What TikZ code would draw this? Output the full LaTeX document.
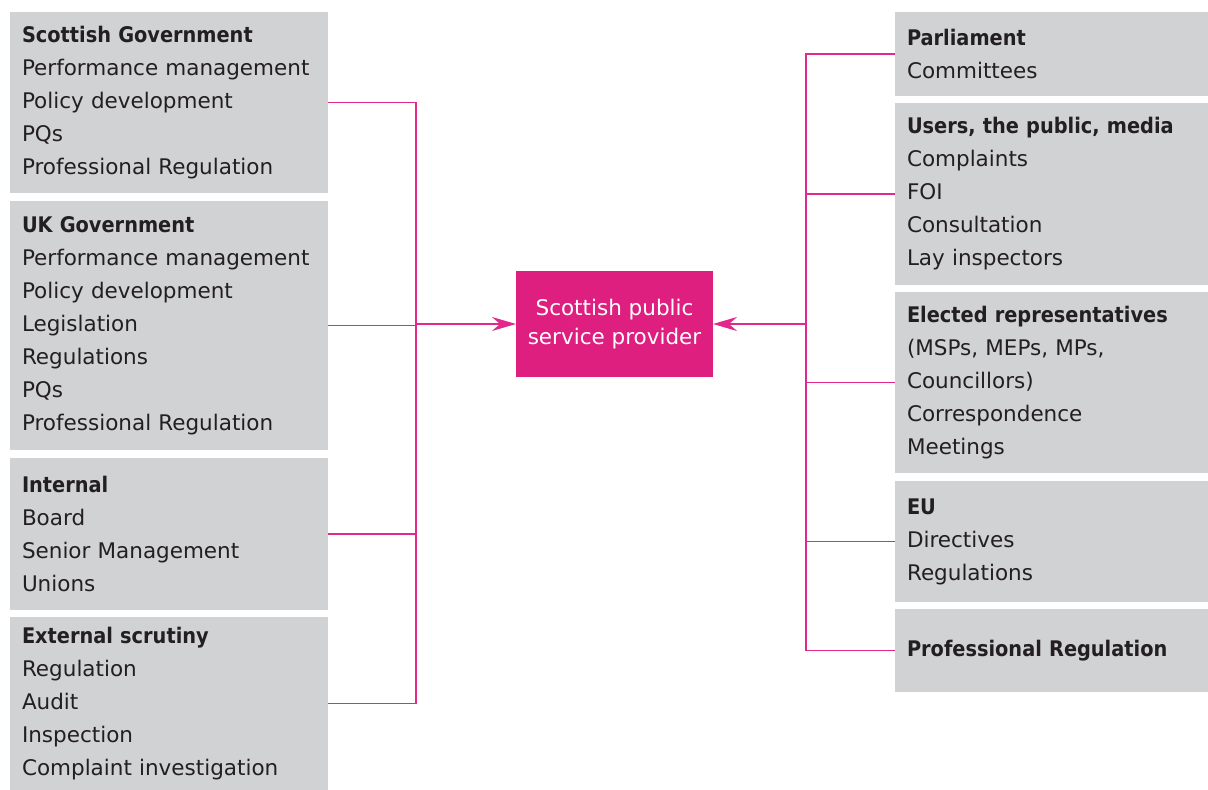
\documentclass[tikz,border=0pt]{standalone}
\usepackage{fontspec}
\setmainfont{DejaVu Sans}[BoldFont={DejaVu Sans Condensed Bold}]
\usetikzlibrary{arrows.meta}
\definecolor{boxgrey}{HTML}{D1D2D4}
\definecolor{hubpink}{HTML}{DE1F80}
\definecolor{linkpink}{HTML}{E2288A}
\definecolor{inktext}{HTML}{231F20}

\begin{document}
\begin{tikzpicture}[x=1pt, y=-1pt,
  group/.style={fill=boxgrey, text=inktext, anchor=north west, align=left,
    inner xsep=12pt, inner ysep=0pt, outer sep=0pt,
    font=\fontsize{21.5}{33}\selectfont},
  leftgroup/.style={group, text width=294pt},
  rightgroup/.style={group, text width=289pt},
  link/.style={draw=linkpink, line width=1.5pt},
  feed/.style={link, -{Stealth[length=24pt, width=14pt, inset=8pt]}}]
  \useasboundingbox (0,0) rectangle (1208,790);
  % left column
  \node[leftgroup, minimum height=181pt] (scotgov) at (10,12)
    {\textbf{Scottish Government}\\Performance management\\Policy development\\PQs\\Professional Regulation};
  \node[leftgroup, minimum height=249pt] (ukgov) at (10,201)
    {\textbf{UK Government}\\Performance management\\Policy development\\Legislation\\Regulations\\PQs\\Professional Regulation};
  \node[leftgroup, minimum height=152pt] (internal) at (10,458)
    {\textbf{Internal}\\Board\\Senior Management\\Unions};
  \node[leftgroup, minimum height=173pt] (scrutiny) at (10,617)
    {\textbf{External scrutiny}\\Regulation\\Audit\\Inspection\\Complaint investigation};
  % right column
  \node[rightgroup, minimum height=84pt] (parliament) at (895,12)
    {\textbf{Parliament}\\Committees};
  \node[rightgroup, minimum height=182pt] (public) at (895,103)
    {\textbf{Users, the public, media}\\Complaints\\FOI\\Consultation\\Lay inspectors};
  \node[rightgroup, minimum height=181pt] (elected) at (895,292)
    {\textbf{Elected representatives}\\(MSPs, MEPs, MPs,\\Councillors)\\Correspondence\\Meetings};
  \node[rightgroup, minimum height=121pt] (eu) at (895,481)
    {\textbf{EU}\\Directives\\Regulations};
  \node[rightgroup, minimum height=83pt] (profreg) at (895,609)
    {\textbf{Professional Regulation}};
  % centre
  \node[fill=hubpink, text=white, align=center, minimum width=197pt, minimum height=106pt,
    inner sep=0pt, outer sep=0pt, font=\fontsize{21.5}{29}\selectfont] (provider) at (614.5,324)
    {Scottish public\\service provider};
  \coordinate (leftbus) at (416,324);
  \coordinate (rightbus) at (806,324);
  \foreach \n in {scotgov, ukgov, internal, scrutiny}
    \draw[link] (\n.east) -| (leftbus);
  \foreach \n in {parliament, public, elected, eu, profreg}
    \draw[link] (\n.west) -| (rightbus);
  \draw[feed] (leftbus) -- (provider.west);
  \draw[feed] (rightbus) -- (provider.east);
\end{tikzpicture}
\end{document}
